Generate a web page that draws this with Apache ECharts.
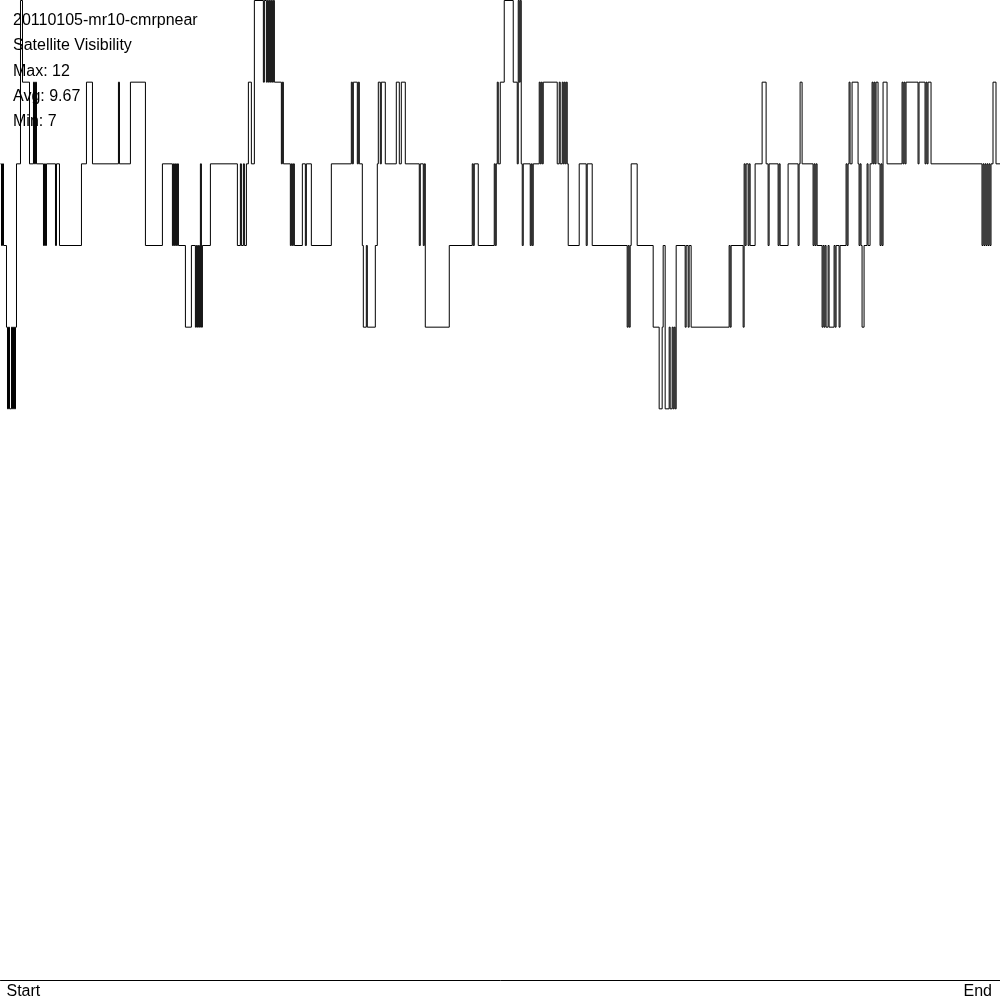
<!DOCTYPE html>
<html>
<head>
<meta charset="utf-8">
<script src="https://cdn.jsdelivr.net/npm/echarts@6/dist/echarts.min.js"></script>
<style>
html,body{margin:0;padding:0;background:#fff;}
#chart{width:1000px;height:1000px;}
</style>
</head>
<body>
<div id="chart"></div>
<script>
// Title lines
const titleLines = ["20110105-mr10-cmrpnear", "Satellite Visibility", "Max: 12", "Avg: 9.67", "Min: 7"];
// x-axis end labels
const axisLabels = ["Start", "End"];
// Time positions (0 = start, 1000 = end) where the visible satellite count changes
const changeTimes = [
  0,1,2,3,6,7,8,9,11,12,13,14,15,16,20,22,29,33,34,35,36,43,44,45,46,55,56,59,81,86,92,118,119,130,145,162,
  172,173,174,175,176,177,178,185,191,195,196,197,198,199,200,201,202,210,
  237,240,241,243,244,246,248,251,254,263,264,266,267,268,269,270,271,272,273,274,281,282,283,
  290,291,292,293,294,302,305,306,311,331,
  351,352,353,357,358,359,362,363,366,367,375,377,378,380,381,385,396,399,401,405,
  419,420,423,424,425,449,472,473,474,478,494,495,496,
  497,498,500,504,513,517,518,519,520,521,522,523,530,531,532,533,539,540,541,542,543,
  557,559,560,562,563,564,565,566,567,568,579,586,587,592,627,628,629,630,631,637,653,659,
  662,663,665,669,670,672,673,674,675,676,685,686,688,689,691,
  729,730,731,743,744,745,746,748,749,750,755,762,766,768,769,778,779,780,788,798,799,800,802,813,814,815,816,817,
  822,823,824,825,826,828,829,834,835,836,839,840,846,847,848,849,850,852,858,859,860,861,862,864,867,868,870,
  872,873,874,875,876,878,880,881,882,883,887,
  902,903,904,905,906,918,919,925,926,927,928,931,982,983,984,985,986,987,988,989,990,991,993,996,1000
];
// Satellite count from each change time onward (same order as changeTimes)
const satCounts = [
  10,9,10,9,8,7,8,7,8,7,8,7,8,10,12,11,10,11,10,11,10,9,10,9,10,9,10,9,10,11,10,11,10,11,9,10,
  9,10,9,10,9,10,9,8,9,8,9,8,9,8,10,8,9,10,
  9,10,9,10,9,10,11,10,12,11,12,11,12,11,12,11,12,11,12,11,10,11,10,
  9,10,9,10,9,10,9,10,9,10,
  11,10,11,10,11,10,9,8,9,8,9,10,11,10,11,10,11,10,11,10,
  9,10,9,10,8,9,10,9,10,9,10,9,10,
  11,10,11,12,11,10,12,11,12,10,9,10,9,10,9,10,11,10,11,10,11,
  10,11,10,11,10,11,10,11,10,9,10,9,10,9,8,9,8,9,10,9,8,7,
  8,9,7,8,7,8,7,8,7,9,8,9,8,9,8,
  9,8,9,8,10,9,10,9,10,9,10,11,10,9,10,9,10,9,10,9,10,11,10,9,10,9,10,9,
  8,9,8,9,8,9,8,9,8,9,8,9,10,9,10,11,10,11,10,9,10,9,8,9,10,9,10,
  11,10,11,10,11,10,9,10,9,11,10,
  11,10,11,10,11,10,11,10,11,10,11,10,9,10,9,10,9,10,9,10,9,10,11,10,10
];

// One step per row: [start time, end time, count, next count]
const steps = [];
for (let i = 0; i < changeTimes.length - 1; i++) {
  steps.push([changeTimes[i], changeTimes[i + 1], satCounts[i], satCounts[i + 1]]);
}

const chart = echarts.init(document.getElementById('chart'), null, {renderer: 'canvas'});
chart.setOption({
  animation: false,
  backgroundColor: '#fff',
  title: {
    text: titleLines.join('\n'),
    left: 13,
    top: 8,
    padding: 0,
    textStyle: {fontFamily: 'Liberation Sans', fontSize: 16, fontWeight: 'normal', color: '#000', lineHeight: 25.25}
  },
  grid: {left: 0.5, right: -0.5, top: 0.5, bottom: 19.5, containLabel: false},
  xAxis: {
    type: 'value', min: 0, max: 1000, interval: 1000,
    axisLine: {show: true, lineStyle: {color: '#000', width: 1}},
    axisTick: {show: false},
    splitLine: {show: false},
    axisLabel: {
      show: true, margin: 3, color: '#000', fontFamily: 'Liberation Sans', fontSize: 16,
      alignMinLabel: 'left', alignMaxLabel: 'right', padding: [0, 8, 0, 6],
      formatter: v => v === 0 ? axisLabels[0] : (v === 1000 ? axisLabels[1] : '')
    }
  },
  yAxis: {type: 'value', min: 0, max: 12, show: false, splitLine: {show: false}},
  series: [{
    type: 'custom',
    silent: true,
    clip: false,
    data: steps,
    encode: {x: [0, 1], y: [2, 3]},
    renderItem: function (params, api) {
      const t0 = api.value(0), t1 = api.value(1), v0 = api.value(2), v1 = api.value(3);
      const p0 = api.coord([t0, v0]);
      const p1 = api.coord([t1, v0]);
      const p2 = api.coord([t1, v1]);
      return {
        type: 'polyline',
        shape: {points: [p0, p1, p2]},
        style: {stroke: '#000', lineWidth: 1, fill: null}
      };
    }
  }]
});
</script>
</body>
</html>
